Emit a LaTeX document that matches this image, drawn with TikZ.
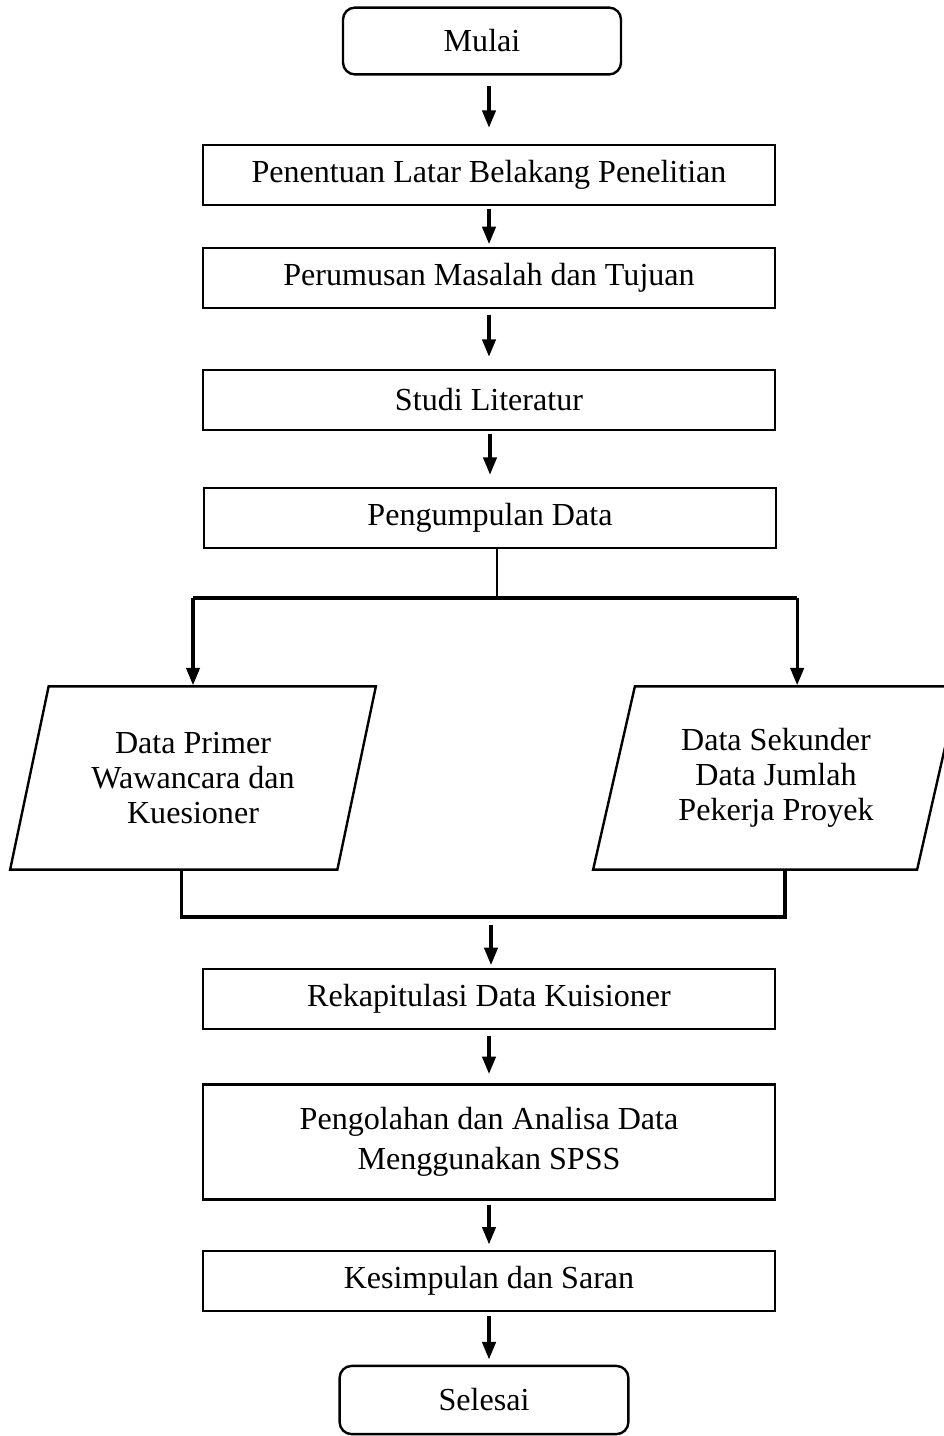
\documentclass[tikz,border=0pt]{standalone}
\usepackage{fontspec}
\setmainfont{Liberation Serif}
\usetikzlibrary{arrows.meta,shapes.geometric,calc}
\tikzset{
  term/.style={draw, line width=0.9pt, rounded corners=4.5pt, minimum width=104pt, minimum height=25pt, font=\fontsize{12}{14}\selectfont},
  proc/.style={draw, line width=0.9pt, minimum width=214pt, minimum height=22.5pt, align=center, font=\fontsize{12}{15}\selectfont},
  datain/.style={draw, line width=0.9pt, trapezium, trapezium left angle=75, trapezium right angle=105, trapezium stretches=true, minimum width=137pt, minimum height=68.5pt, align=center, font=\fontsize{12}{13.2}\selectfont},
  arrow/.style={-{Triangle[length=6.5pt,width=5pt]}, line width=1.2pt, shorten <=1.5pt, shorten >=2pt},
  branch/.style={line width=1.3pt},
  link/.style={line width=0.4pt}
}
\begin{document}
\begin{tikzpicture}[x=0.374pt,y=0.374pt]
  \useasboundingbox (0,0) rectangle (944,-1436);
  \node[term] (mulai) at (482,-41) {Mulai};
  \node[proc] (latar) at (489,-175) {Penentuan Latar Belakang Penelitian};
  \node[proc] (rumus) at (489,-278) {Perumusan Masalah dan Tujuan};
  \node[proc] (studi) at (489,-400) {Studi Literatur};
  \node[proc] (kumpul) at (490,-518) {Pengumpulan Data};
  \node[datain] (primer) at (193,-778) {Data Primer\\Wawancara dan\\Kuesioner};
  \node[datain] (sekunder) at (776,-778) {Data Sekunder\\Data Jumlah\\Pekerja Proyek};
  \node[proc] (rekap) at (489,-999) {Rekapitulasi Data Kuisioner};
  \node[proc, minimum height=43pt] (olah) at (489,-1142) {Pengolahan dan Analisa Data\\Menggunakan SPSS};
  \node[proc] (simpul) at (489,-1281) {Kesimpulan dan Saran};
  \node[term, minimum width=108pt, minimum height=25.5pt] (selesai) at (484,-1400) {Selesai};
  \coordinate (split) at (497,-598);
  \coordinate (merge) at (491,-917);

  \draw[arrow, shorten <=4pt, shorten >=6pt] (mulai.south -| latar) -- (latar.north);
  \draw[arrow, shorten <=1pt, shorten >=1pt] (latar) -- (rumus);
  \draw[arrow, shorten <=2pt, shorten >=4.5pt] (rumus) -- (studi);
  \draw[arrow, shorten <=1pt, shorten >=4.5pt] (studi.south -| kumpul) -- (kumpul.north);
  \draw[link] (kumpul.south -| split) -- (split);
  \draw[branch] (primer.north |- split) -- (sekunder.top side |- split);
  \draw[arrow, shorten <=0pt, shorten >=0pt] (primer.north |- split) -- (primer.north);
  \draw[arrow, shorten <=0pt, shorten >=0pt] (sekunder.top side |- split) -- (sekunder.top side);
  \draw[branch] ($(primer.bottom side)+(8,0)$) |- (merge) -| ($(sekunder.bottom side)+(30,0)$);
  \draw[arrow, shorten <=3pt, shorten >=1pt] (merge) -- (merge |- rekap.north);
  \draw[arrow, shorten <=2pt, shorten >=3.5pt] (rekap) -- (olah);
  \draw[arrow] (olah) -- (simpul);
  \draw[arrow] (simpul.south) -- (simpul.south |- selesai.north);
\end{tikzpicture}
\end{document}
